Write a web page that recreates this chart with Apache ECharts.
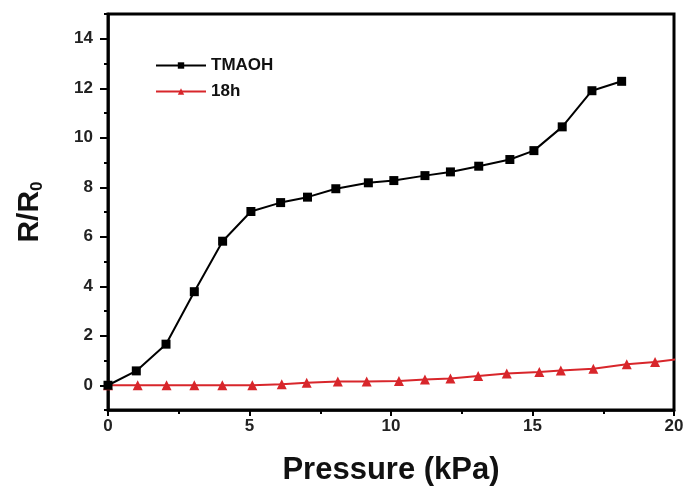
<!DOCTYPE html>
<html><head><meta charset="utf-8">
<script src="https://cdn.jsdelivr.net/npm/echarts@6/dist/echarts.min.js"></script>
<style>html,body{margin:0;padding:0;background:#fff}#c{width:687px;height:492px}</style>
</head><body><div id="c"></div>
<script>
const seriesNames = ['TMAOH', '18h'];
const tmaohX = [0, 1, 2.05, 3.05, 4.05, 5.05, 6.1, 7.05, 8.05, 9.2, 10.1, 11.2, 12.1, 13.1, 14.2, 15.05, 16.05, 17.1, 18.15];
const tmaohY = [0, 0.58, 1.66, 3.78, 5.82, 7.02, 7.38, 7.6, 7.94, 8.18, 8.27, 8.47, 8.62, 8.85, 9.12, 9.48, 10.44, 11.9, 12.28];
const h18X = [0, 1.05, 2.07, 3.05, 4.04, 5.1, 6.14, 7.02, 8.12, 9.14, 10.28, 11.2, 12.1, 13.08, 14.09, 15.24, 16.0, 17.15, 18.33, 19.33, 20.25];
const h18Y = [0, 0, 0, 0, 0, 0, 0.04, 0.1, 0.15, 0.15, 0.17, 0.23, 0.27, 0.37, 0.47, 0.54, 0.6, 0.67, 0.85, 0.94, 1.07];
const yTickLabels = [0, 2, 4, 6, 8, 10, 12, 14];
const xTickLabels = [0, 5, 10, 15, 20];

const zip = (xs, ys) => xs.map((x, i) => [x, ys[i]]);
const font = '"Liberation Sans", Arial, sans-serif';
const chart = echarts.init(document.getElementById('c'));
chart.setOption({
  animation: false,
  backgroundColor: '#fff',
  grid: { left: 108, right: 13, top: 14, bottom: 82, show: true, borderColor: '#000', borderWidth: 3, backgroundColor: 'transparent' },
  legend: {
    orient: 'vertical', left: 150, top: 52, itemWidth: 50, itemHeight: 8, itemGap: 9,
    data: seriesNames,
    textStyle: { fontFamily: font, fontWeight: 'bold', fontSize: 17, color: '#111' }
  },
  xAxis: {
    type: 'value', min: 0, max: 20, interval: 5,
    axisLine: { onZero: false, lineStyle: { color: '#000', width: 2.5 } },
    axisTick: { show: true, length: 6, lineStyle: { color: '#000', width: 2 } },
    minorTick: { show: true, splitNumber: 2, length: 4, lineStyle: { color: '#000', width: 2 } },
    splitLine: { show: false },
    axisLabel: { margin: 8, fontFamily: font, fontWeight: 'bold', fontSize: 17, color: '#222',
      customValues: xTickLabels },
    name: 'Pressure (kPa)', nameLocation: 'middle', nameGap: 45,
    nameTextStyle: { fontFamily: font, fontWeight: 'bold', fontSize: 31, color: '#111' }
  },
  yAxis: [{
    type: 'value', min: -1, max: 15, interval: 1, position: 'left',
    axisLine: { onZero: false, lineStyle: { color: '#000', width: 2.5 } },
    axisTick: { show: true, length: 4, lineStyle: { color: '#000', width: 2 } },
    splitLine: { show: false },
    axisLabel: { margin: 15, fontFamily: font, fontWeight: 'bold', fontSize: 17, color: '#222',
      customValues: yTickLabels },
    name: '{a|R/R}{b|0}', nameLocation: 'middle', nameGap: 62, nameRotate: 90,
    nameTextStyle: {
      rich: {
        a: { fontFamily: font, fontWeight: 'bold', fontSize: 30, color: '#111' },
        b: { fontFamily: font, fontWeight: 'bold', fontSize: 17, color: '#111', padding: [16, 0, 0, 0] }
      }
    }
  }, {
    type: 'value', min: -1, max: 15, position: 'left', offset: 0,
    axisLine: { show: false, onZero: false },
    axisTick: { show: true, length: 8, customValues: yTickLabels, lineStyle: { color: '#000', width: 2 } },
    splitLine: { show: false },
    axisLabel: { show: false, customValues: yTickLabels }
  }],
  series: [{
    name: seriesNames[0], type: 'line', data: zip(tmaohX, tmaohY),
    symbol: 'rect', symbolSize: 9, color: '#000',
    lineStyle: { color: '#000', width: 2 }, itemStyle: { color: '#000' }, z: 3
  }, {
    name: seriesNames[1], type: 'line', data: zip(h18X, h18Y), clip: true,
    symbol: 'triangle', symbolSize: 10, color: '#d8262b',
    lineStyle: { color: '#d8262b', width: 2 }, itemStyle: { color: '#d8262b' }, z: 2
  }]
});
</script></body></html>
